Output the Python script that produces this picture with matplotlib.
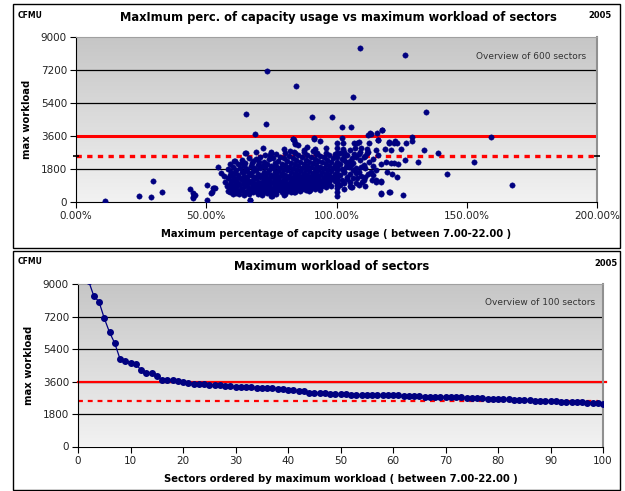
import numpy as np
import matplotlib
matplotlib.use("Agg")
import matplotlib.pyplot as plt
from matplotlib.colors import LinearSegmentedColormap
from matplotlib.patches import Rectangle

plt.rcParams['font.family'] = ['DejaVu Sans']

# ---------------- data ----------------
# Top chart: (max capacity usage %, max workload)
outlier_points = [
    (11.0, 55), (24.0, 344), (28.6, 290), (29.7, 1165), (33.2, 564), (43.7, 710),
    (44.9, 510), (45.4, 400), (44.9, 300), (45.8, 382), (45.1, 200), (50.1, 928), (50.1, 110),
    (51.8, 510), (52.4, 746), (53.5, 768), (52.8, 746), (52.2, 564), (54.7, 1928),
    (55.6, 1565), (56.7, 1420), (57.3, 1110), (58.0, 874),
    (65.4, 4787), (72.8, 4240), (73.5, 7134), (68.6, 3695), (84.5, 6352), (90.5, 4624),
    (66.8, 93), (65.1, 2657), (71.8, 2930), (74.9, 2660), (83.5, 3385), (91.3, 3456),
    (79.7, 382), (75.1, 327), (62.7, 420), (59.9, 564), (71.4, 382), (80.1, 420),
    (109.2, 8390), (126.2, 8026), (106.2, 5750), (134.5, 4897), (98.2, 4660),
    (102.2, 4078), (105.4, 4112), (117.3, 3931), (159.2, 3530), (152.6, 2168),
    (142.6, 1511), (167.2, 946), (139.0, 2657), (133.7, 2857), (131.4, 2168),
    (129.0, 3566), (129.0, 3330), (126.7, 3240), (124.7, 2894), (126.2, 2311),
    (125.4, 382), (120.3, 546), (116.9, 455), (123.3, 1383), (121.2, 1529),
    (119.2, 1656), (116.9, 1165), (115.3, 1110), (122.3, 3330), (123.1, 3240),
    (120.3, 3260), (118.8, 2877), (120.8, 2840), (122.2, 2147), (123.5, 2058),
    (119.1, 2184), (116.9, 2075), (116.0, 2550), (115.6, 3750), (115.8, 3385),
    (113.1, 3695), (112.2, 3658), (112.3, 3205), (111.8, 2894), (112.6, 2200),
    (113.1, 1656), (113.7, 1200), (109.9, 1110), (110.5, 2020), (109.2, 2293),
    (110.5, 2440), (108.6, 3293), (106.7, 3205), (107.0, 2930), (106.7, 2620),
    (106.0, 2384), (105.7, 2020), (106.4, 1747), (107.3, 1565), (108.0, 1293),
    (105.1, 1110), (105.7, 836), (102.2, 3475), (102.6, 3205), (102.6, 2880),
    (102.8, 2511), (103.5, 2200), (103.8, 1930), (102.8, 1656), (104.1, 1383),
    (100.3, 3205), (100.3, 2930), (100.3, 2660), (100.3, 2440), (100.3, 2200),
    (100.3, 1930), (100.3, 1747), (100.3, 1529), (100.3, 1383), (100.3, 1240),
    (100.3, 1110), (100.3, 928), (100.3, 746), (100.3, 564), (100.3, 327),
    (91.3, 3475), (93.6, 3350), (88.7, 3020), (85.4, 3100), (91.9, 2877),
    (95.8, 2930), (83.3, 3420), (84.2, 3205), (87.4, 2840), (92.6, 2660),
    (108.0, 3205), (109.2, 2750), (111.8, 2660), (112.7, 3750), (117.6, 3931),
    (115.9, 3385), (120.1, 3240), (122.0, 3240), (120.8, 2110), (116.9, 1110),
    (115.0, 1200), (116.9, 475), (120.4, 564), (104.7, 1928), (106.0, 836),
    (110.5, 1200), (93.8, 655), (90.0, 655), (86.2, 746), (83.6, 564),
    (83.2, 3420), (84.2, 3166), (79.7, 2877), (82.0, 2800), (83.6, 2713),
    (69.1, 2713), (75.0, 2713), (74.4, 2566), (65.0, 2660), (60.5, 2256),
    (63.7, 2147), (67.6, 2110), (70.1, 2200), (75.0, 327), (66.9, 110),
]

# dense core of the cloud, read column by column (usage %, workloads)
core_columns = [
    (58.3, [1780, 1320, 620]), (59.0, [2050, 1450, 980, 520]), (59.6, [1620, 1150, 760]),
    (60.3, [1900, 1380, 880, 430]), (61.0, [2210, 1560, 1090, 690]), (61.6, [1730, 1240, 810, 480]),
    (62.3, [2080, 1470, 1010, 590]), (63.0, [1850, 1330, 930, 650]), (63.6, [2300, 1610, 1180, 720]),
    (64.3, [1960, 1420, 1050, 560, 380]), (65.0, [2150, 1700, 1260, 870]), (65.7, [1820, 1350, 990, 610]),
    (66.4, [2420, 1580, 1140, 780, 450]), (67.1, [1990, 1480, 1030, 700]), (67.8, [2260, 1690, 1210, 850, 520]),
    (68.5, [1880, 1390, 960, 640]), (69.2, [2350, 1740, 1300, 910, 580]), (69.9, [2040, 1520, 1100, 760, 430]),
    (70.6, [2480, 1830, 1360, 1000, 690]), (71.3, [1950, 1450, 1070, 820, 540]), (72.0, [2180, 1640, 1230, 880, 610]),
    (72.7, [2550, 1900, 1410, 1040, 720]), (73.4, [2080, 1560, 1160, 830, 470]), (74.1, [2330, 1760, 1320, 970, 660]),
    (74.8, [1980, 1480, 1090, 760, 520]), (75.5, [2420, 1850, 1390, 1010, 700]), (76.2, [2110, 1620, 1200, 880, 590]),
    (76.9, [2600, 1940, 1460, 1080, 760, 450]), (77.6, [2230, 1700, 1280, 930, 640]), (78.3, [2470, 1870, 1400, 1050, 720]),
    (79.0, [2060, 1580, 1170, 830, 560]), (79.7, [2380, 1810, 1350, 990, 680]), (80.4, [2650, 2000, 1490, 1110, 790, 480]),
    (81.1, [2240, 1720, 1290, 950, 610]), (81.8, [2520, 1920, 1440, 1060, 740]), (82.5, [2130, 1650, 1230, 880, 570]),
    (83.2, [2400, 1850, 1380, 1020, 700]), (83.9, [2700, 2060, 1540, 1150, 820, 520]), (84.6, [2280, 1760, 1310, 960, 650]),
    (85.3, [2560, 1960, 1470, 1090, 760]), (86.0, [2170, 1680, 1250, 900, 600]), (86.7, [2450, 1880, 1410, 1040, 710]),
    (87.4, [2740, 2090, 1570, 1180, 840]), (88.1, [2310, 1790, 1330, 980, 660]), (88.8, [2580, 1990, 1500, 1110, 780]),
    (89.5, [2200, 1710, 1270, 920, 620]), (90.2, [2480, 1900, 1430, 1060, 740]), (90.9, [2770, 2120, 1600, 1200, 870]),
    (91.6, [2350, 1820, 1360, 1000, 690]), (92.3, [2620, 2020, 1520, 1130, 800]), (93.0, [2240, 1740, 1290, 940]),
    (93.7, [2510, 1930, 1450, 1070, 760]), (94.4, [2180, 1660, 1220, 880]), (95.1, [2440, 1860, 1390, 1020]),
    (95.8, [2700, 2070, 1550, 1150, 820]), (96.5, [2290, 1770, 1310, 960]), (97.2, [2560, 1980, 1480, 1090]),
    (97.9, [2200, 1690, 1240, 900]), (98.6, [2410, 1850, 1380]), (99.3, [2640, 2030, 1520, 1120]),
    (101.3, [2650, 2050, 1450, 950]), (102.0, [2350, 1800, 1200]), (103.0, [2750, 2300, 1650, 1050, 700]),
    (104.0, [2550, 2000, 1250]), (105.0, [2850, 2250, 1550, 900]), (106.5, [2150, 1300]),
    (107.5, [2450, 1850, 1050]), (108.5, [2600, 1650, 950]), (109.5, [2950, 1900, 1400]),
    (111.0, [2500, 1850, 1350, 850]), (112.0, [2750, 1550]), (114.0, [2350, 1950, 1450]),
    (115.0, [2850, 1750]),
]

# Bottom chart: workload of the 100 busiest sectors (ordered)
sector_rank = list(range(1, 101))
sector_workload = [
    11500, 9200, 8360, 8030, 7120, 6340, 5730, 4860, 4760, 4650,
    4600, 4230, 4100, 4080, 3890, 3710, 3680, 3670, 3650, 3560,
    3520, 3470, 3460, 3450, 3440, 3400, 3390, 3360, 3350, 3320,
    3310, 3300, 3280, 3270, 3250, 3240, 3230, 3190, 3180, 3150,
    3130, 3080, 3060, 2990, 2970, 2960, 2950, 2920, 2910, 2900,
    2890, 2880, 2870, 2860, 2850, 2850, 2845, 2840, 2840, 2835,
    2830, 2820, 2800, 2790, 2780, 2770, 2760, 2755, 2750, 2740,
    2730, 2725, 2720, 2710, 2700, 2690, 2670, 2650, 2640, 2630,
    2620, 2610, 2600, 2580, 2560, 2555, 2550, 2540, 2530, 2520,
    2500, 2495, 2490, 2480, 2470, 2450, 2440, 2430, 2420, 2380,
]

capacity_line = 3600
reference_line = 2500
y_ticks = [0, 1800, 3600, 5400, 7200, 9000]
x_ticks_top = [0, 50, 100, 150, 200]
x_tick_labels_top = ["0.00%", "50.00%", "100.00%", "150.00%", "200.00%"]
x_ticks_bottom = list(range(0, 101, 10))

cap_pct = [p[0] for p in outlier_points]
workload = [p[1] for p in outlier_points]
for cx, ys in core_columns:
    for yv in ys:
        cap_pct.append(cx)
        workload.append(yv)

# ---------------- drawing ----------------
W, H = 625, 491
fig = plt.figure(figsize=(W / 100, H / 100), dpi=100)
fig.patch.set_facecolor('white')

def fx(px):
    return px / W

def fy(py):
    return 1 - py / H

# panel frames
for (x0, y0, x1, y1) in [(13, 4, 620, 248), (13, 251, 620, 490)]:
    fig.patches.append(Rectangle((fx(x0), fy(y1)), fx(x1) - fx(x0), fy(y0) - fy(y1),
                                 transform=fig.transFigure, fill=False,
                                 edgecolor='black', linewidth=1.0, zorder=0))

grad = LinearSegmentedColormap.from_list('g', ['#f2f2f2', '#c6c6c6'])
NAVY = '#000080'
TICK_FS = 7.5
LAB_FS = 7.2

def style_axes(ax):
    ax.imshow(np.linspace(0, 1, 256).reshape(-1, 1), extent=[0, 1, 0, 1],
              transform=ax.transAxes, aspect='auto', cmap=grad, origin='lower', zorder=0)
    for yv in [1800, 3600, 5400, 7200]:
        ax.axhline(yv, color='black', lw=0.9, zorder=1)
    ax.set_ylim(0, 9000)
    ax.set_yticks(y_ticks)
    ax.spines['left'].set_color('black')
    ax.spines['bottom'].set_color('black')
    ax.spines['top'].set_color('#a0a0a0')
    ax.spines['right'].set_color('#909090')
    ax.spines['right'].set_linewidth(1.5)
    ax.tick_params(direction='out', length=4, width=0.8, labelsize=TICK_FS,
                   labelcolor='#222222', pad=2.5)
    ax.tick_params(axis='y', right=False)
    ax.tick_params(axis='x', top=False)

# ---- top chart ----
ax1 = fig.add_axes([fx(76), fy(202), fx(597) - fx(76), fy(37) - fy(202)])
style_axes(ax1)
ax1.set_xlim(0, 200)
ax1.set_xticks(x_ticks_top)
ax1.set_xticklabels(x_tick_labels_top)
ax1.axhline(capacity_line, color='#ff0000', lw=2.2, zorder=2)
ax1.plot([0, 200], [reference_line, reference_line], color='#ff0000', lw=2.4,
         linestyle=(0, (1.6, 1.6)), zorder=2, clip_on=False)
ax1.plot([0, 200], [reference_line, reference_line], linestyle='none', marker='_',
         markersize=5, color='black', mew=1.2, zorder=3, clip_on=False)
ax1.scatter(cap_pct, workload, s=15, color=NAVY, edgecolors=NAVY, linewidths=0.3, zorder=4)
ax1.set_ylabel('max workload', fontsize=LAB_FS, fontweight='bold', labelpad=6)
ax1.set_xlabel('Maximum percentage of capcity usage ( between 7.00-22.00 )',
               fontsize=LAB_FS, fontweight='bold', labelpad=6)
ax1.text(0.98, 0.88, 'Overview of 600 sectors', transform=ax1.transAxes,
         ha='right', va='center', fontsize=6.5, color='#333333', zorder=5)

fig.text(fx(18), fy(15), 'CFMU', fontsize=5.5, fontweight='bold', va='center', ha='left')
fig.text(fx(338), fy(18), 'MaxImum perc. of capacity usage vs maximum workload of sectors',
         fontsize=8.3, fontweight='bold', va='center', ha='center')
fig.text(fx(612), fy(15), '2005', fontsize=6, fontweight='bold', va='center', ha='right')

# ---- bottom chart ----
ax2 = fig.add_axes([fx(78), fy(446.5), fx(603) - fx(78), fy(284.3) - fy(446.5)])
style_axes(ax2)
ax2.set_xlim(0, 100)
ax2.set_xticks(x_ticks_bottom)
ax2.axhline(capacity_line, xmax=1.006, color='#ff0000', lw=1.6, zorder=2, clip_on=False)
ax2.plot([0, 99], [reference_line, reference_line], color='#ff0000', lw=1.6,
         linestyle=(0, (2.2, 2.2)), zorder=2)
ax2.plot(sector_rank, sector_workload, color=NAVY, lw=0.9, marker='o', markersize=4,
         markerfacecolor=NAVY, markeredgecolor=NAVY, zorder=4)
ax2.set_ylabel('max workload', fontsize=LAB_FS, fontweight='bold', labelpad=6)
ax2.set_xlabel('Sectors ordered by maximum workload ( between 7.00-22.00 )',
               fontsize=LAB_FS, fontweight='bold', labelpad=6)
ax2.text(0.985, 0.89, 'Overview of 100 sectors', transform=ax2.transAxes,
         ha='right', va='center', fontsize=6.5, color='#333333', zorder=5)

fig.text(fx(18), fy(261), 'CFMU', fontsize=5.5, fontweight='bold', va='center', ha='left')
fig.text(fx(332), fy(266), 'Maximum workload of sectors',
         fontsize=8.3, fontweight='bold', va='center', ha='center')
fig.text(fx(618), fy(264), '2005', fontsize=6, fontweight='bold', va='center', ha='right')

fig.savefig('out.png', dpi=100)
